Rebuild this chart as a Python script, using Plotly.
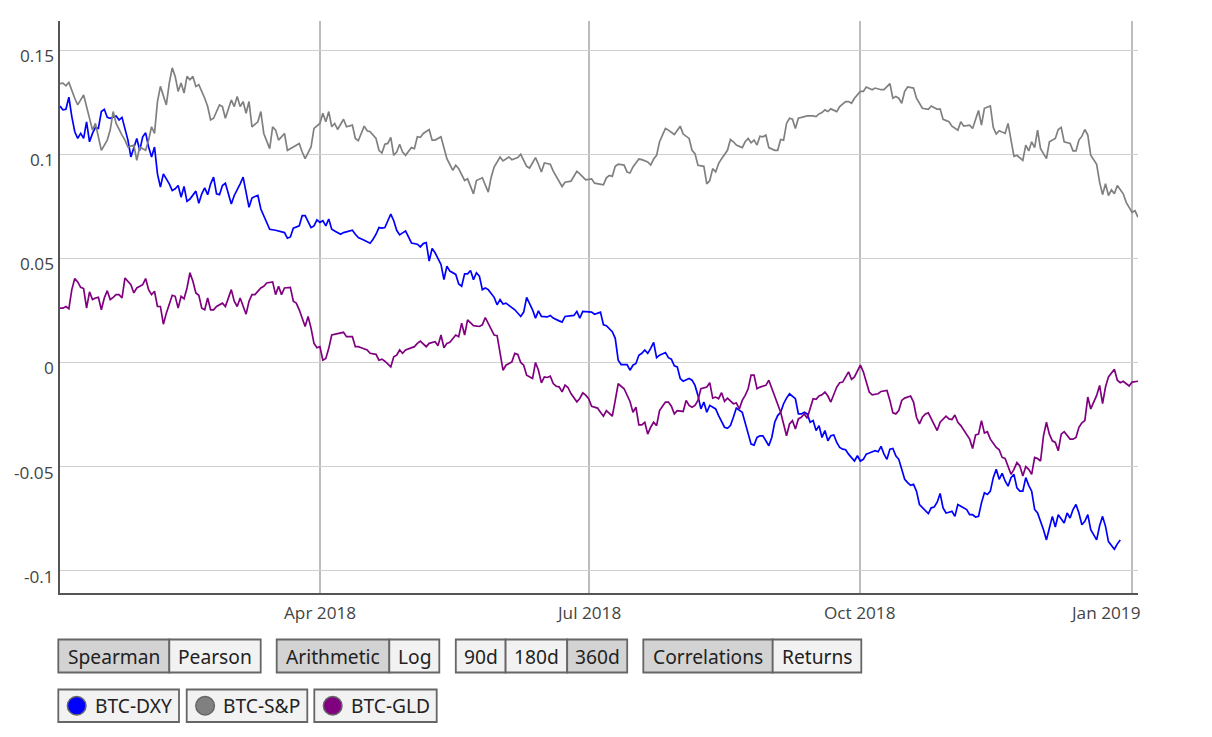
import pandas as pd
import plotly.graph_objects as go

START = "2018-01-03"
END = "2019-01-03"

# (day offset from START, correlation value)
BTC_DXY = [(0,.1232),(1,.1213),(2,.1216),(3,.1274),(4,.1181),(5,.1108),(6,.1076),(7,.1100),(8,.1076),(9,.1156),(10,.1060),(11,.1100),(12,.1129),(13,.1124),(14,.1205),(15,.1216),(16,.1177),(17,.1173),(19,.1184),(20,.1165),(21,.1177),(22,.1116),(23,.1068),(24,.0987),(25,.1035),(26,.1076),(27,.1019),(28,.1084),(29,.1103),(30,.1035),(31,.0987),(32,.1035),(33,.0906),(34,.0842),(35,.0906),(37,.0858),(38,.0826),(39,.0834),(40,.0850),(41,.0794),(42,.0845),(43,.0774),(44,.0785),(46,.0823),(47,.0765),(48,.0810),(49,.0839),(50,.0806),(51,.0858),(52,.0890),(53,.0810),(54,.0806),(55,.0850),(56,.0861),(58,.0761),(59,.0802),(61,.0858),(62,.0890),(64,.0745),(65,.0790),(66,.0797),(67,.0802),(68,.0737),(69,.0705),(71,.0640),(73,.0635),(74,.0632),(76,.0624),(77,.0597),(78,.0603),(79,.0645),(81,.0656),(82,.0705),(83,.0705),(85,.0648),(86,.0656),(87,.0685),(88,.0673),(89,.0681),(90,.0656),(91,.0689),(92,.0640),(93,.0632),
(95,.0616),(96,.0624),(98,.0632),(99,.0635),(100,.0616),(101,.0600),(103,.0587),(104,.0581),(105,.0573),(106,.0592),(107,.0616),(108,.0648),(109,.0645),(110,.0648),(112,.0713),(113,.0681),(114,.0635),(115,.0613),(116,.0624),(117,.0632),(118,.0603),(119,.0574),(121,.0568),(122,.0555),(123,.0571),(124,.0576),(125,.0487),(126,.0548),(127,.0527),(129,.0471),(130,.0398),(131,.0463),(132,.0439),(134,.0423),(135,.0377),(136,.0366),(137,.0426),(138,.0426),(139,.0442),(140,.0398),(141,.0431),(142,.0415),(143,.0350),(144,.0358),(145,.0350),(147,.0313),(148,.0277),(149,.0302),(150,.0281),(151,.0285),(152,.0274),(154,.0253),(156,.0221),(157,.0242),(158,.0313),(159,.0285),(160,.0253),(161,.0213),(162,.0248),(163,.0221),(165,.0219),(166,.0226),(167,.0213),(169,.0200),(170,.0194),(171,.0221),(173,.0226),(174,.0226),(175,.0245),(176,.0213),(177,.0245),(179,.0245),(180,.0242),(181,.0232),(183,.0242),
(184,.0181),(185,.0177),(187,.0148),(188,.0116),(189,.0011),(190,-.0010),(192,-.0010),(193,-.0037),(194,-.0013),(195,-.0005),(196,.0035),(197,.0044),(198,.0060),(199,.0044),(200,.0068),(201,.0097),(202,.0023),(203,.0035),(205,.0048),(206,.0023),(207,.0016),(208,-.0016),(209,-.0021),(210,-.0077),(211,-.0090),(213,-.0077),(214,-.0085),(215,-.0110),(216,-.0158),(217,-.0223),(218,-.0190),(219,-.0239),(220,-.0206),(222,-.0223),(223,-.0255),(224,-.0287),(225,-.0311),(226,-.0316),(227,-.0303),(228,-.0263),(229,-.0219),(231,-.0239),(232,-.0287),(233,-.0335),(234,-.0392),(235,-.0397),(236,-.0360),(237,-.0352),(238,-.0352),(240,-.0400),(241,-.0360),(242,-.0287),(243,-.0255),(244,-.0239),(245,-.0198),(246,-.0171),(247,-.0150),(249,-.0174),(250,-.0247),(251,-.0247),(252,-.0239),(253,-.0247),(254,-.0287),(255,-.0279),(256,-.0327),(257,-.0303),(258,-.0360),(259,-.0327),(260,-.0376),(261,-.0352),(262,-.0348),(263,-.0384),(264,-.0408),(265,-.0416),(266,-.0419),(267,-.0440),(269,-.0473),(270,-.0448),(271,-.0473),(272,-.0465),(273,-.0440),
(274,-.0435),(276,-.0424),(277,-.0429),(278,-.0403),(279,-.0440),(280,-.0465),(281,-.0416),(282,-.0413),(283,-.0448),(284,-.0465),(285,-.0513),(286,-.0561),(287,-.0577),(288,-.0590),(289,-.0585),(290,-.0618),(291,-.0682),(293,-.0715),(294,-.0726),(295,-.0698),(296,-.0694),(297,-.0671),(298,-.0629),(299,-.0698),(300,-.0723),(301,-.0719),(302,-.0715),(303,-.0739),(304,-.0682),(305,-.0690),(307,-.0706),(308,-.0731),(309,-.0731),(310,-.0742),(311,-.0739),(312,-.0674),(313,-.0626),(314,-.0634),(315,-.0618),(316,-.0553),(317,-.0513),(318,-.0561),(319,-.0532),(320,-.0569),(321,-.0594),(322,-.0553),(323,-.0537),(324,-.0602),(325,-.0618),(326,-.0618),(327,-.0553),(328,-.0590),(329,-.0618),(330,-.0706),(331,-.0723),(333,-.0803),(334,-.0852),(335,-.0795),(336,-.0739),(337,-.0790),(338,-.0731),(340,-.0771),(341,-.0723),(342,-.0747),(343,-.0706),(344,-.0682),(345,-.0723),(346,-.0779),(347,-.0763),(348,-.0731),(349,-.0803),(351,-.0852),(352,-.0784),(353,-.0739),(354,-.0787),(355,-.0860),(356,-.0876),(357,-.0897),(358,-.0871),(359,-.0852)]

BTC_SP = [(0,.1339),(1,.1342),(2,.1329),(3,.1345),(5,.1269),(6,.1237),(8,.1285),(10,.1165),(11,.1116),(12,.1148),(14,.1019),(16,.1068),(17,.1116),(18,.1205),(19,.1148),(21,.1092),(22,.1068),(23,.1035),(25,.1044),(26,.0971),(27,.1035),(29,.1019),(30,.1068),(31,.1132),(32,.1100),(33,.1253),(34,.1326),(36,.1237),(37,.1342),(38,.1415),(39,.1374),(40,.1302),(41,.1342),(42,.1294),(43,.1374),(44,.1358),(45,.1374),(46,.1326),(47,.1334),(49,.1269),(50,.1229),(51,.1165),(52,.1173),(54,.1237),(55,.1229),(56,.1173),(58,.1261),(59,.1229),(60,.1277),(61,.1229),(62,.1253),(63,.1197),(64,.1253),(65,.1132),(67,.1156),(68,.1205),(69,.1100),(71,.1027),(72,.1132),(73,.1116),(74,.1068),(76,.1100),(77,.1019),(79,.1035),(81,.1052),(82,.1011),(83,.0979),(85,.1035),(86,.1124),
(88,.1148),(89,.1197),(90,.1156),(91,.1205),(92,.1132),(93,.1148),(94,.1119),(96,.1168),(97,.1132),(99,.1140),(100,.1076),(101,.1065),(103,.1135),(104,.1113),(105,.1108),(107,.1076),(108,.1019),(109,.1006),(110,.1048),(111,.1052),(112,.1081),(113,.0995),(114,.1011),(115,.1048),(116,.1011),(117,.0995),(119,.1032),(120,.1027),(121,.1084),(122,.1081),(123,.1100),(125,.1119),(126,.1068),(127,.1068),(129,.1084),(130,.1035),(131,.0979),(133,.0923),(134,.0947),(135,.0931),(137,.0874),(138,.0882),(140,.0810),(141,.0874),(143,.0887),(145,.0818),(146,.0890),(147,.0939),(149,.0987),(150,.0968),(152,.0987),(153,.0974),(155,.0984),(156,.1000),(158,.0942),(159,.0934),(161,.0984),(162,.0952),(163,.0915),(164,.0958),(166,.0952),(167,.0919),(168,.0894),(170,.0845),(171,.0866),(173,.0871),(175,.0918),(176,.0906),(178,.0877),(180,.0882),(181,.0861),(183,.0855),
(184,.0853),(185,.0887),(186,.0898),(187,.0894),(188,.0942),(189,.0952),(191,.0948),(192,.0915),(193,.0910),(194,.0939),(196,.0977),(197,.0974),(199,.0963),(200,.0948),(201,.0977),(202,.0995),(203,.1060),(205,.1124),(206,.1116),(208,.1095),(210,.1135),(211,.1097),(213,.1076),(214,.1019),(215,.1003),(216,.0947),(218,.0942),(219,.0858),(220,.0874),(221,.0931),(222,.0915),(223,.0955),(224,.0979),(226,.1019),(227,.1071),(228,.1060),(229,.1044),(231,.1032),(232,.1060),(233,.1076),(234,.1055),(235,.1068),(236,.1044),(237,.1087),(238,.1084),(239,.1092),(240,.1032),(242,.1019),(243,.1019),(244,.1071),(245,.1068),(246,.1148),(247,.1173),(248,.1168),(249,.1124),(250,.1173),(251,.1177),(253,.1184),(255,.1184),(256,.1181),(257,.1194),(258,.1200),(259,.1213),(260,.1205),(261,.1218),(263,.1205),(264,.1229),(266,.1253),(267,.1253),(268,.1245),(269,.1269),(271,.1302),(272,.1302),(273,.1323),
(275,.1310),(276,.1318),(278,.1310),(279,.1310),(281,.1339),(282,.1269),(283,.1277),(284,.1269),(285,.1245),(286,.1302),(287,.1323),(289,.1318),(290,.1269),(291,.1248),(292,.1221),(294,.1216),(295,.1232),(297,.1216),(298,.1218),(299,.1168),(301,.1156),(302,.1135),(304,.1116),(305,.1156),(306,.1135),(308,.1140),(309,.1124),(311,.1210),(312,.1140),(313,.1221),(315,.1232),(316,.1129),(317,.1097),(318,.1113),(320,.1100),(321,.1148),(323,.0990),(324,.0995),(326,.0971),(327,.1044),(328,.1016),(329,.1060),(330,.1032),(331,.1116),(332,.1027),(334,.0979),(335,.1060),(337,.1076),(338,.1119),(339,.1129),(340,.1060),(342,.1052),(343,.1016),(344,.1016),(345,.1068),(346,.1087),(347,.1119),(348,.1092),(349,.0995),(351,.0952),(352,.0866),(353,.0806),(354,.0858),(355,.0802),(356,.0829),(357,.0810),(358,.0850),(360,.0810),(361,.0769),(362,.0745),(363,.0721),(364,.0729),(365,.0697)]

BTC_GLD = [(0,.0261),(1,.0261),(2,.0269),(3,.0258),(4,.0350),(5,.0403),(6,.0387),(7,.0361),(8,.0355),(9,.0261),(10,.0339),(11,.0302),(12,.0310),(13,.0313),(14,.0253),(15,.0310),(16,.0345),(17,.0302),(18,.0313),(19,.0326),(20,.0326),(21,.0310),(22,.0406),(24,.0374),(25,.0334),(26,.0358),(28,.0374),(29,.0403),(30,.0350),(31,.0326),(32,.0342),(33,.0269),(34,.0269),(35,.0184),(36,.0237),(37,.0277),(38,.0323),(39,.0318),(40,.0261),(41,.0318),(42,.0306),(43,.0358),(44,.0431),(45,.0390),(46,.0334),(47,.0323),(48,.0261),(49,.0253),(50,.0310),(51,.0253),(52,.0253),(53,.0269),(55,.0285),(56,.0269),(57,.0310),(58,.0350),(59,.0294),(60,.0269),(61,.0310),(63,.0232),(64,.0294),(65,.0326),(66,.0326),(68,.0358),(69,.0366),(70,.0382),(72,.0387),(73,.0326),(74,.0366),(75,.0326),(76,.0358),(78,.0361),(79,.0294),(80,.0285),(81,.0253),(83,.0173),(84,.0221),(85,.0165),(86,.0092),(87,.0071),(88,.0076),(89,.0011),(90,.0019),(91,.0068),(92,.0132),(93,.0135),
(95,.0140),(96,.0145),(97,.0124),(99,.0124),(100,.0076),(101,.0076),(102,.0071),(104,.0060),(105,.0044),(107,.0039),(108,.0011),(109,.0016),(110,.0006),(112,-.0021),(113,.0027),(114,.0035),(115,.0060),(116,.0044),(117,.0060),(118,.0065),(120,.0076),(121,.0092),(122,.0103),(124,.0076),(125,.0092),(127,.0100),(128,.0081),(129,.0132),(130,.0071),(131,.0092),(132,.0097),(134,.0132),(135,.0124),(136,.0189),(137,.0132),(138,.0205),(139,.0189),(140,.0177),(142,.0173),(143,.0181),(144,.0216),(145,.0189),(147,.0132),(148,.0129),(149,.0052),(150,-.0037),(151,-.0013),(153,.0003),(154,.0044),(155,.0039),(156,.0000),(157,-.0013),(158,-.0061),(160,-.0077),(161,.0000),
(162,-.0037),(163,-.0098),(164,-.0069),(165,-.0072),(166,-.0066),(167,-.0101),(168,-.0114),(169,-.0117),(170,-.0141),(171,-.0109),(172,-.0120),(173,-.0149),(175,-.0189),(176,-.0173),(177,-.0146),(178,-.0157),
(179,-.0174),(180,-.0210),(182,-.0219),(183,-.0239),(184,-.0258),(185,-.0231),(186,-.0247),(187,-.0258),(188,-.0182),(189,-.0102),(191,-.0126),(192,-.0158),(193,-.0187),(194,-.0239),(195,-.0215),(196,-.0300),(197,-.0300),(198,-.0287),(199,-.0344),(200,-.0311),(201,-.0287),(202,-.0303),(203,-.0231),(204,-.0210),(205,-.0190),(206,-.0190),(207,-.0210),(208,-.0247),(209,-.0231),(211,-.0235),(212,-.0182),(213,-.0206),(214,-.0215),(215,-.0206),(216,-.0182),(217,-.0126),(218,-.0123),(219,-.0118),(220,-.0097),(221,-.0171),(222,-.0166),(223,-.0174),(224,-.0145),(225,-.0187),(226,-.0171),(228,-.0198),(229,-.0194),(230,-.0223),(231,-.0182),(232,-.0158),(233,-.0126),(234,-.0061),(235,-.0061),(236,-.0126),(237,-.0118),(239,-.0110),(240,-.0085),(241,-.0126),(242,-.0166),(243,-.0198),(244,-.0239),(246,-.0352),(247,-.0295),(248,-.0279),(249,-.0319),(250,-.0271),(251,-.0263),(252,-.0247),(253,-.0268),(255,-.0174),(256,-.0177),(257,-.0161),(258,-.0155),(259,-.0142),(260,-.0161),(261,-.0190),(263,-.0118),(264,-.0097),(265,-.0094),(267,-.0045),(268,-.0081),(269,-.0069),
(271,-.0013),(272,-.0045),(273,-.0094),(274,-.0142),(275,-.0155),(277,-.0150),(278,-.0139),(280,-.0134),(281,-.0182),(282,-.0242),(283,-.0247),(284,-.0231),(285,-.0182),(286,-.0171),(288,-.0161),(289,-.0190),(290,-.0263),(291,-.0295),(292,-.0263),(293,-.0247),(294,-.0242),(295,-.0271),(297,-.0327),(298,-.0287),(299,-.0271),(300,-.0258),(301,-.0271),(302,-.0274),(303,-.0252),(304,-.0287),(305,-.0303),(307,-.0344),(308,-.0368),(309,-.0413),(310,-.0348),(311,-.0344),(312,-.0279),(313,-.0339),(314,-.0332),(315,-.0368),(317,-.0408),(318,-.0419),(319,-.0456),(320,-.0461),(321,-.0497),(322,-.0537),(323,-.0513),(324,-.0481),(325,-.0497),(326,-.0545),(327,-.0500),(328,-.0513),(329,-.0537),(330,-.0456),(331,-.0461),(332,-.0473),(333,-.0352),(334,-.0287),(335,-.0344),(336,-.0376),(337,-.0384),(338,-.0424),(339,-.0344),(340,-.0332),(342,-.0368),(343,-.0368),(344,-.0360),(345,-.0311),(346,-.0290),(347,-.0279),(348,-.0166),(349,-.0223),(351,-.0158),(352,-.0110),(353,-.0198),(354,-.0118),(355,-.0069),(357,-.0032),(358,-.0085),(359,-.0097),(360,-.0090),(361,-.0102),(362,-.0113),(363,-.0094),(365,-.0090)]

SERIES_NAMES = ["BTC-DXY", "BTC-S&P", "BTC-GLD"]
SERIES_COLORS = ["#0000ff", "#808080", "#800080"]
Y_TICKS = [-0.1, -0.05, 0, 0.05, 0.1, 0.15]
Y_TICK_TEXT = ["-0.1", "-0.05", "0", "0.05", "0.1", "0.15"]
X_TICKS = ["2018-04-01", "2018-07-01", "2018-10-01", "2019-01-01"]
X_TICK_TEXT = ["Apr 2018", "Jul 2018", "Oct 2018", "Jan 2019"]

BUTTON_LABELS = ["Spearman", "Pearson", "Arithmetic", "Log", "90d", "180d", "360d", "Correlations", "Returns"]
BUTTON_ACTIVE = [True, False, True, False, False, False, True, True, False]

# ---------------- layout geometry (page pixels) ----------------
OFF = 8                      # browser body margin
W, H = 1212 - 2 * OFF, 737 - 2 * OFF
L, R, T, B = 60, 1138, 21, 593
PW, PH = R - L, B - T


def px(x):
    return (x - L) / PW


def py(y):
    return (B - y) / PH


def dates(days):
    return pd.to_datetime(START) + pd.to_timedelta(list(days), unit="D")


fig = go.Figure()
for name, color, data in zip(SERIES_NAMES, SERIES_COLORS, [BTC_DXY, BTC_SP, BTC_GLD]):
    d, v = zip(*data)
    fig.add_trace(go.Scatter(x=dates(d), y=list(v), mode="lines", name=name,
                             line=dict(color=color, width=1.7), showlegend=False))

shapes = []
annotations = []

TICK_FONT = dict(family="Open Sans, verdana, arial, sans-serif", size=17.2, color="#444")

# x tick labels (last one kept inside the plot like the reference)
for i, (tv, tt) in enumerate(zip(X_TICKS, X_TICK_TEXT)):
    last = i == len(X_TICKS) - 1
    annotations.append(dict(text=tt, xref="x", yref="paper", x=tv, y=py(612),
                            xanchor="right" if last else "center", yanchor="middle",
                            xshift=10 if last else 0, showarrow=False, font=TICK_FONT))

# y tick labels, sitting just below their grid lines like the reference
for tv, tt in zip(Y_TICKS, Y_TICK_TEXT):
    annotations.append(dict(text=tt, xref="paper", yref="y", x=px(55.5), y=tv,
                            xanchor="right", yanchor="middle", yshift=-5.5,
                            showarrow=False, font=TICK_FONT))

btn_edges = [(58.3, 169.3), (169.3, 260.7), (276.7, 389.3), (389.3, 439.3),
             (455.8, 505.6), (505.6, 567.2), (567.2, 627.2),
             (643.3, 772.7), (772.7, 861.3)]
BTN_Y0, BTN_Y1 = 639.5, 672.5
BTN_FONT = dict(family="Noto Sans, Open Sans, sans-serif", size=19.2, color="#222")

for label, active, (x0, x1) in zip(BUTTON_LABELS, BUTTON_ACTIVE, btn_edges):
    shapes.append(dict(type="rect", xref="paper", yref="paper",
                       x0=px(x0), x1=px(x1), y0=py(BTN_Y1), y1=py(BTN_Y0),
                       fillcolor="#d3d3d3" if active else "#f2f2f2",
                       line=dict(color="#666666", width=1.8), layer="above"))
    annotations.append(dict(text=label, xref="paper", yref="paper",
                            x=px((x0 + x1) / 2), y=py((BTN_Y0 + BTN_Y1) / 2),
                            xanchor="center", yanchor="middle", showarrow=False,
                            font=BTN_FONT))

leg_edges = [(58.3, 179.0), (186.7, 307.3), (314.3, 436.7)]
LEG_Y0, LEG_Y1 = 689.5, 722.0
for name, color, (x0, x1) in zip(SERIES_NAMES, SERIES_COLORS, leg_edges):
    shapes.append(dict(type="rect", xref="paper", yref="paper",
                       x0=px(x0), x1=px(x1), y0=py(LEG_Y1), y1=py(LEG_Y0),
                       fillcolor="#f2f2f2", line=dict(color="#666666", width=1.8),
                       layer="above"))
    cx, cy, r = x0 + 18.4, (LEG_Y0 + LEG_Y1) / 2, 9.3
    shapes.append(dict(type="circle", xref="paper", yref="paper",
                       x0=px(cx - r), x1=px(cx + r), y0=py(cy + r), y1=py(cy - r),
                       fillcolor=color, line=dict(color="#666666", width=1.5),
                       layer="above"))
    annotations.append(dict(text=name, xref="paper", yref="paper",
                            x=px(x0 + 34.5), y=py(cy),
                            xanchor="left", yanchor="middle", showarrow=False,
                            font=BTN_FONT))

fig.update_layout(
    width=W, height=H,
    margin=dict(l=L - OFF, r=(OFF + W) - R, t=T - OFF, b=(OFF + H) - B, pad=0),
    paper_bgcolor="white", plot_bgcolor="white",
    font=TICK_FONT,
    shapes=shapes, annotations=annotations,
    hovermode="x",
)
fig.update_xaxes(
    type="date", range=[START, END], automargin=False,
    tickvals=X_TICKS, showticklabels=False,
    showgrid=True, gridcolor="#bdbdbd", gridwidth=1.8,
    showline=True, linecolor="#555555", linewidth=1.5,
    ticks="", zeroline=False,
)
fig.update_yaxes(
    range=[-0.1107, 0.164], automargin=False,
    tickvals=Y_TICKS, showticklabels=False,
    showgrid=True, gridcolor="#cfcfcf", gridwidth=1.2,
    showline=True, linecolor="#555555", linewidth=1.5,
    ticks="", zeroline=False,
)

fig.write_html("out.html")
